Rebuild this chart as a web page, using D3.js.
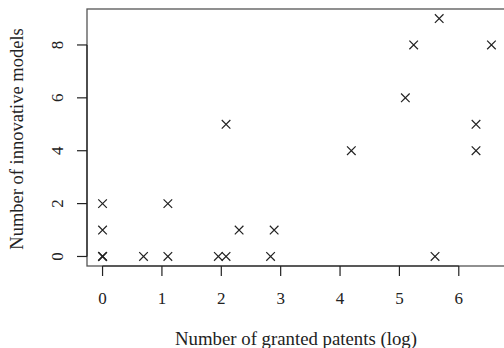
<!DOCTYPE html>
<html>
<head>
<meta charset="utf-8">
<script src="https://cdn.jsdelivr.net/npm/d3@7"></script>
<style>
  body { margin: 0; background: #fff; }
  svg { display: block; }
  text { font-family: "Liberation Serif", "DejaVu Serif", serif; fill: #222; }
</style>
</head>
<body>
<svg id="chart" width="504" height="348"></svg>
<script>
// log(granted patents) vs innovative models
const patentsLog = [0, 0, 0, 0, 0, 0.69, 1.10, 1.10, 1.95, 2.08, 2.08, 2.30, 2.83, 2.89, 4.19, 5.10, 5.24, 5.67, 5.60, 6.29, 6.29, 6.55];
const models     = [0, 0, 0, 1, 2, 0,    0,    2,    0,    0,    5,    1,    0,    1,    4,    6,    8,    9,    0,    5,    4,    8];
const xTicks = [0, 1, 2, 3, 4, 5, 6];
const yTicks = [0, 2, 4, 6, 8];

const svg = d3.select('#chart');

// R-style 4% padding on each side
const x = d3.scaleLinear().domain([-0.262, 6.812]).range([87, 507]);
const y = d3.scaleLinear().domain([-0.36, 9.36]).range([266, 9]);

// box
svg.append('rect')
  .attr('x', 87).attr('y', 9)
  .attr('width', 420).attr('height', 257)
  .attr('fill', 'none')
  .attr('stroke', '#555')
  .attr('stroke-width', 1.3);

// x axis
const gx = svg.append('g');
gx.append('line')
  .attr('x1', x(0)).attr('x2', x(6))
  .attr('y1', 266).attr('y2', 266)
  .attr('stroke', '#222').attr('stroke-width', 1.2);
gx.selectAll('.tk').data(xTicks).enter().append('line')
  .attr('x1', d => x(d)).attr('x2', d => x(d))
  .attr('y1', 266).attr('y2', 276)
  .attr('stroke', '#222').attr('stroke-width', 1.2);
gx.selectAll('text').data(xTicks).enter().append('text')
  .attr('x', d => x(d)).attr('y', 304)
  .attr('text-anchor', 'middle')
  .attr('font-size', 17)
  .text(d => d);

// y axis
const gy = svg.append('g');
gy.append('line')
  .attr('x1', 87).attr('x2', 87)
  .attr('y1', y(0)).attr('y2', y(8))
  .attr('stroke', '#222').attr('stroke-width', 1.2);
gy.selectAll('.tk').data(yTicks).enter().append('line')
  .attr('x1', 77).attr('x2', 87)
  .attr('y1', d => y(d)).attr('y2', d => y(d))
  .attr('stroke', '#222').attr('stroke-width', 1.2);
gy.selectAll('text').data(yTicks).enter().append('text')
  .attr('transform', d => `translate(63,${y(d)}) rotate(-90)`)
  .attr('text-anchor', 'middle')
  .attr('font-size', 17)
  .text(d => d);

// axis titles
svg.append('text')
  .attr('x', 296).attr('y', 345)
  .attr('text-anchor', 'middle')
  .attr('font-size', 18.8)
  .text('Number of granted patents (log)');
svg.append('text')
  .attr('transform', `translate(23,139) rotate(-90)`)
  .attr('text-anchor', 'middle')
  .attr('font-size', 18.5)
  .text('Number of innovative models');

// crosses (pch 4)
const s = 4.3;
const pts = svg.append('g');
patentsLog.forEach((v, i) => {
  const cx = x(v), cy = y(models[i]);
  pts.append('path')
    .attr('d', `M${cx - s},${cy - s}L${cx + s},${cy + s}M${cx - s},${cy + s}L${cx + s},${cy - s}`)
    .attr('stroke', '#222')
    .attr('stroke-width', 1.2)
    .attr('fill', 'none');
});
</script>
</body>
</html>
